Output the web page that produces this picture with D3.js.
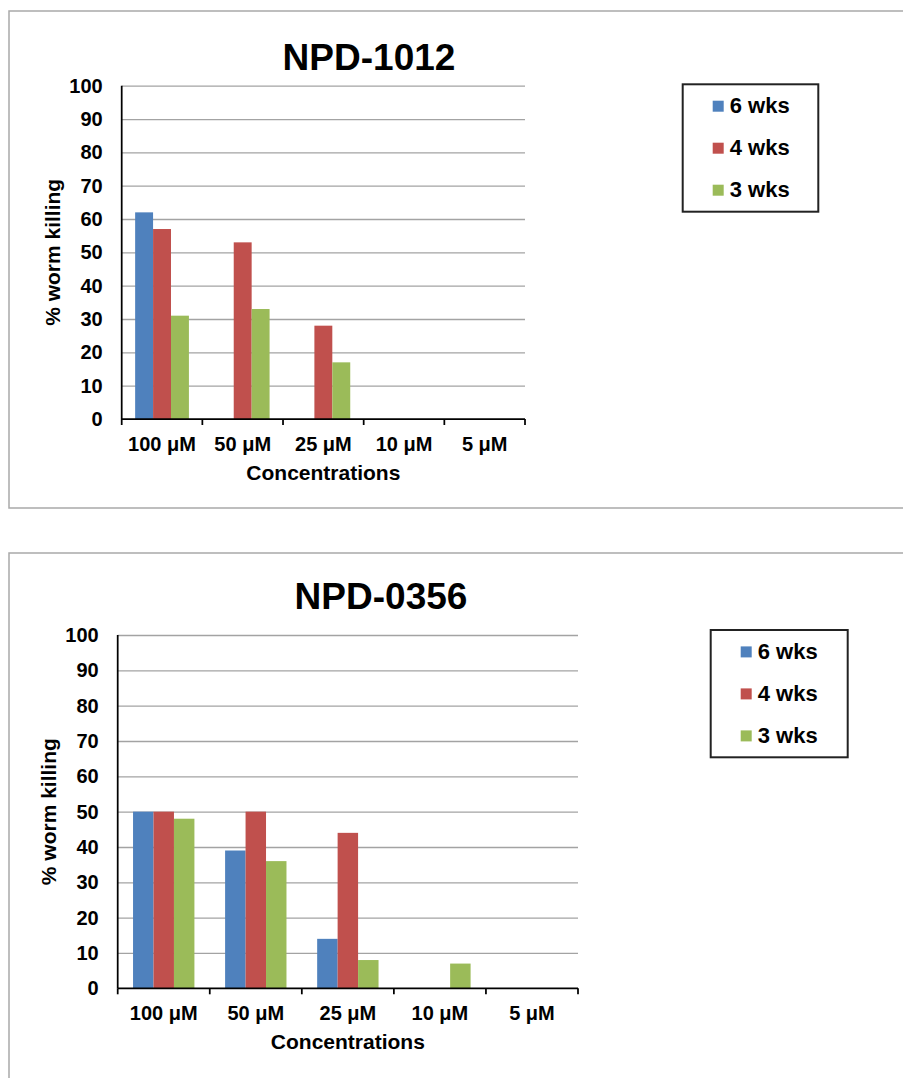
<!DOCTYPE html>
<html>
<head>
<meta charset="utf-8">
<script src="https://cdn.jsdelivr.net/npm/d3@7"></script>
<style>
  body { margin: 0; background: #fff; }
  svg { display: block; font-family: "Liberation Sans", Arial, sans-serif; font-weight: bold; }
</style>
</head>
<body>
<div id="chart"></div>
<script>
// data
const categories = ["100 μM", "50 μM", "25 μM", "10 μM", "5 μM"];
const seriesNames = ["6 wks", "4 wks", "3 wks"];
const seriesColors = ["#4F81BD", "#C0504D", "#9BBB59"];
const yTicks = [0, 10, 20, 30, 40, 50, 60, 70, 80, 90, 100];

const npd1012_6wks = [62, 0, 0, 0, 0];
const npd1012_4wks = [57, 53, 28, 0, 0];
const npd1012_3wks = [31, 33, 17, 0, 0];

const npd0356_6wks = [50, 39, 14, 0, 0];
const npd0356_4wks = [50, 50, 44, 0, 0];
const npd0356_3wks = [48, 36, 8, 7, 0];

const width = 903;
const height = 1078;

const svg = d3.select("#chart")
    .append("svg")
    .attr("width", width)
    .attr("height", height);

function drawChart(title, series, L) {
    // outer chart frame
    svg.append("rect")
        .attr("x", 9)
        .attr("y", L.frameTop)
        .attr("width", 920)
        .attr("height", L.frameBottom - L.frameTop)
        .attr("fill", "#fff")
        .attr("stroke", "#a9a9a9")
        .attr("stroke-width", 1.5);

    const x0 = d3.scaleBand()
        .domain(categories)
        .range([L.left, L.right]);

    const x1 = d3.scaleBand()
        .domain(seriesNames)
        .range([0, x0.bandwidth()])
        .paddingOuter(0.75);

    const y = d3.scaleLinear()
        .domain([0, 100])
        .range([L.bottom, L.top]);

    // gridlines
    const grid = svg.append("g")
        .attr("transform", `translate(${L.left},0)`)
        .call(d3.axisLeft(y).tickValues(yTicks.slice(1)).tickSize(-(L.right - L.left)).tickFormat(""));
    grid.select(".domain").remove();
    grid.selectAll("line")
        .attr("stroke", "#a3a3a3")
        .attr("stroke-width", 1.3);

    // bars
    const rows = categories.map((c, i) => ({cat: c, vals: series.map(s => s[i])}));
    svg.append("g")
        .selectAll("g")
        .data(rows)
        .join("g")
        .attr("transform", d => `translate(${x0(d.cat)},0)`)
        .selectAll("rect")
        .data(d => d.vals.map((v, j) => ({name: seriesNames[j], v: v, color: seriesColors[j]})))
        .join("rect")
        .attr("x", d => x1(d.name))
        .attr("width", x1.bandwidth())
        .attr("y", d => y(d.v))
        .attr("height", d => y(0) - y(d.v))
        .attr("fill", d => d.color);

    // y axis labels
    const ya = svg.append("g")
        .attr("transform", `translate(${L.left},0)`)
        .call(d3.axisLeft(y).tickValues(yTicks).tickSize(0).tickPadding(19));
    ya.select(".domain").remove();
    ya.selectAll("text")
        .attr("font-family", null)
        .attr("font-size", 20)
        .attr("fill", "#000");

    // y axis line
    svg.append("line")
        .attr("x1", L.left).attr("x2", L.left)
        .attr("y1", y(100)).attr("y2", y(0))
        .attr("stroke", "#000")
        .attr("stroke-width", 1.75);

    // x axis labels
    const xa = svg.append("g")
        .attr("transform", `translate(0,${y(0)})`)
        .call(d3.axisBottom(x0).tickSize(0).tickPadding(17.5));
    xa.select(".domain").remove();
    xa.selectAll("text")
        .attr("font-family", null)
        .attr("font-size", 20)
        .attr("fill", "#000");

    // x axis line and boundary ticks
    svg.append("line")
        .attr("x1", L.left).attr("x2", L.right)
        .attr("y1", y(0)).attr("y2", y(0))
        .attr("stroke", "#000")
        .attr("stroke-width", 1.75);

    const edges = categories.map(c => x0(c)).concat([L.right]);
    svg.append("g")
        .selectAll("line")
        .data(edges)
        .join("line")
        .attr("x1", d => d).attr("x2", d => d)
        .attr("y1", y(0)).attr("y2", y(0) + 6)
        .attr("stroke", "#000")
        .attr("stroke-width", 1.75);

    // titles
    svg.append("text")
        .attr("x", L.titleX)
        .attr("y", L.titleY)
        .attr("text-anchor", "middle")
        .attr("font-size", 37)
        .text(title);

    svg.append("text")
        .attr("x", (L.left + L.right) / 2)
        .attr("y", y(0) + 61)
        .attr("text-anchor", "middle")
        .attr("font-size", 21)
        .text("Concentrations");

    svg.append("text")
        .attr("transform", "rotate(-90)")
        .attr("x", -(y(0) + y(100)) / 2)
        .attr("y", L.left - 62)
        .attr("text-anchor", "middle")
        .attr("font-size", 21)
        .text("% worm killing");

    // legend
    const lg = L.legend;
    svg.append("rect")
        .attr("x", lg.x).attr("y", lg.y)
        .attr("width", lg.w).attr("height", lg.h)
        .attr("fill", "#fff")
        .attr("stroke", "#222")
        .attr("stroke-width", 2);

    const items = svg.append("g")
        .selectAll("g")
        .data(seriesNames)
        .join("g")
        .attr("transform", (d, i) => `translate(${lg.x + 30},${lg.y + 29 + i * 42})`);

    items.append("rect")
        .attr("x", 0)
        .attr("y", -12.6)
        .attr("width", 11)
        .attr("height", 11)
        .attr("fill", (d, i) => seriesColors[i]);

    items.append("text")
        .attr("x", 17)
        .attr("y", 0)
        .attr("font-size", 22)
        .text(d => d);
}

drawChart("NPD-1012", [npd1012_6wks, npd1012_4wks, npd1012_3wks], {
    frameTop: 11, frameBottom: 508,
    left: 121.7, right: 525, top: 85.7, bottom: 419,
    titleX: 369, titleY: 70,
    legend: {x: 682.7, y: 84.3, w: 135.6, h: 127.4}
});

drawChart("NPD-0356", [npd0356_6wks, npd0356_4wks, npd0356_3wks], {
    frameTop: 553, frameBottom: 1100,
    left: 117.7, right: 578, top: 635, bottom: 988.3,
    titleX: 381, titleY: 609,
    legend: {x: 710.7, y: 630, w: 137, h: 127.3}
});
</script>
</body>
</html>
